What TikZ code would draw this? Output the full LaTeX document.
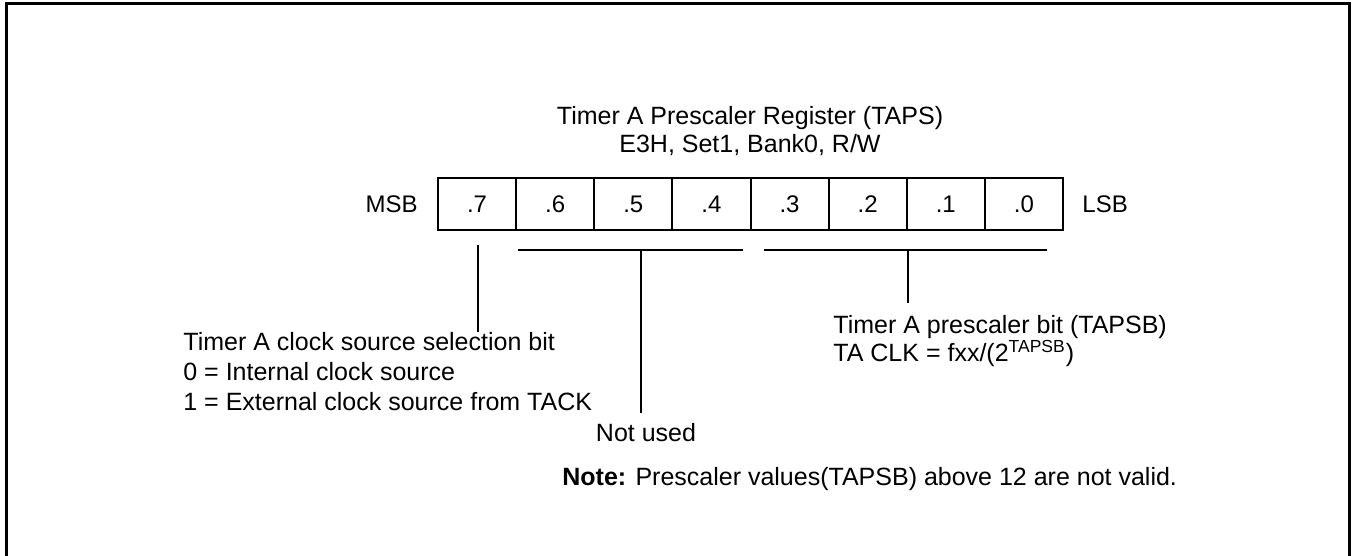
\documentclass[tikz,border=0pt]{standalone}
\usepackage{fontspec}
\setmainfont{Liberation Sans}
\begin{document}
\begin{tikzpicture}[x=0.5pt,y=-0.5pt,
  txt/.style={inner sep=0pt,font=\fontsize{12.5}{14.5}\selectfont},
  reg/.style={inner sep=0pt,font=\fontsize{12}{14}\selectfont},
  cell/.style={draw,line width=1pt,minimum width=39.0625pt,minimum height=26pt,inner sep=0pt},
  thin/.style={line width=0.55pt},
  frame/.style={line width=1.5pt}]
\useasboundingbox (0,0) rectangle (1354,556);
\clip (0,0) rectangle (1354,556);
\draw[frame] (6,4) rectangle (1349.5,600);
% title
\node[txt,anchor=base] (t1) at (750,125) {Timer A Prescaler Register (TAPS)};
\node[txt,anchor=base] (t2) at (750,153) {E3H, Set1, Bank0, R/W};
% register cells
\foreach \i/\lab in {7/.7,6/.6,5/.5,4/.4,3/.3,2/.2,1/.1,0/.0}{
  \node[cell] (c\i) at ({438+78.125*(7-\i)+39.0625},204) {};
  \node[reg,anchor=base] (l\i) at ({438+78.125*(7-\i)+39.0625},212) {\lab};
}
\node[reg,anchor=base east] (msb) at (418,212) {MSB};
\node[reg,anchor=base west] (lsb) at (1082,212) {LSB};
% connectors
\coordinate (a7) at (478,245);
\coordinate (a7e) at (478,332);
\draw[thin] (a7) -- (a7e);
\coordinate (bl) at (518,250);
\coordinate (br) at (743,250);
\coordinate (bm) at (641,250);
\coordinate (bme) at (641,413);
\draw[thin] (bl) -- (br);
\draw[thin] (bm) -- (bme);
\coordinate (cl) at (764,250);
\coordinate (cr) at (1047,250);
\coordinate (cm) at (908,250);
\coordinate (cme) at (908,303);
\draw[thin] (cl) -- (cr);
\draw[thin] (cm) -- (cme);
% left text
\node[txt,anchor=base west] (s1) at (183,350) {Timer A clock source selection bit};
\node[txt,anchor=base west] (s2) at (183,380) {0 = Internal clock source};
\node[txt,anchor=base west] (s3) at (183,410) {1 = External clock source from TACK};
% right text
\node[txt,anchor=base west] (p1) at (833,333) {Timer A prescaler bit (TAPSB)};
\node[txt,anchor=base west] (p2) at (833,361) {TA CLK = fxx/(2\textsuperscript{TAPSB})};
% not used
\node[txt,anchor=base] (nu) at (646,441) {Not used};
% note
\node[txt,anchor=base west] (note) at (562,485) {\textbf{Note:} Prescaler values(TAPSB) above 12 are not valid.};
\end{tikzpicture}
\end{document}
